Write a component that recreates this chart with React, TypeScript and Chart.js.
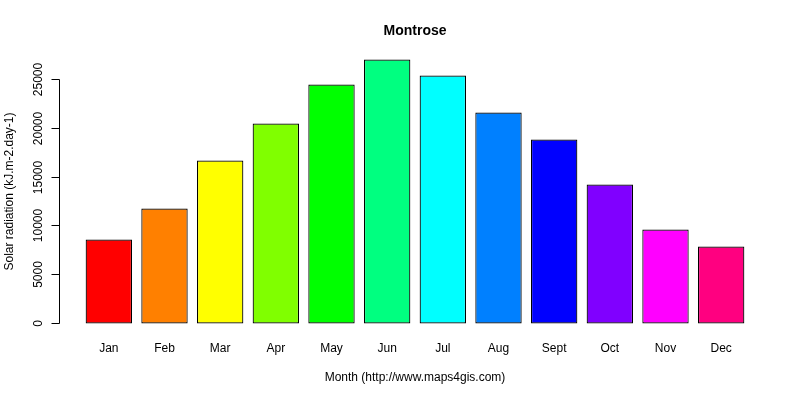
import React, { useEffect, useRef } from "react";
import { Chart, registerables } from "chart.js";

Chart.register(...registerables);

const months = ["Jan", "Feb", "Mar", "Apr", "May", "Jun", "Jul", "Aug", "Sept", "Oct", "Nov", "Dec"];
const radiation = [8570, 11740, 16630, 20410, 24390, 26940, 25310, 21530, 18780, 14180, 9590, 7860];
const barColors = [
  "#FF0000", "#FF8000", "#FFFF00", "#80FF00", "#00FF00", "#00FF80",
  "#00FFFF", "#0080FF", "#0000FF", "#8000FF", "#FF00FF", "#FF0080",
];
const yTicks = [0, 5000, 10000, 15000, 20000, 25000];
const chartTitle = "Montrose";
const xTitle = "Month (http://www.maps4gis.com)";
const yTitle = "Solar radiation (kJ.m-2.day-1)";

const FONT = "Liberation Sans, Arial, sans-serif";

const rAxesPlugin = {
  id: "rAxes",
  afterDraw(chart: any) {
    const ctx = chart.ctx;
    const y = chart.scales.y;
    const x = chart.scales.x;
    const area = chart.chartArea;
    // R plot region extends 0.468 category-units beyond the category padding
    const catW = (area.right - area.left) / months.length;
    const plotLeft = area.left - catW * (0.468 / 1.2);
    const plotRight = area.right + catW * (0.468 / 1.2);
    const plotTop = area.top;
    const plotBottom = area.bottom;
    const axisX = plotLeft;

    ctx.save();
    ctx.strokeStyle = "#000";
    ctx.lineWidth = 1;
    ctx.fillStyle = "#000";
    // y axis line
    const yTop = Math.round(y.getPixelForValue(yTicks[yTicks.length - 1])) + 0.5;
    const yBot = Math.round(y.getPixelForValue(yTicks[0])) + 0.5;
    const ax = Math.round(axisX) + 0.5;
    ctx.beginPath();
    ctx.moveTo(ax, yTop);
    ctx.lineTo(ax, yBot);
    ctx.stroke();
    ctx.font = `12px ${FONT}`;
    ctx.textAlign = "center";
    ctx.textBaseline = "middle";
    for (const t of yTicks) {
      const py = Math.round(y.getPixelForValue(t)) + 0.5;
      ctx.beginPath();
      ctx.moveTo(ax, py);
      ctx.lineTo(ax - 8, py);
      ctx.stroke();
      ctx.save();
      ctx.translate(ax - 21, py);
      ctx.rotate(-Math.PI / 2);
      ctx.fillText(String(t), 0, 0);
      ctx.restore();
    }
    // x labels
    months.forEach((m, i) => {
      ctx.fillText(m, x.getPixelForValue(i), 349);
    });
    // x title
    const cx = (plotLeft + plotRight) / 2;
    ctx.fillText(xTitle, cx, 378);
    // y title
    ctx.save();
    ctx.translate(9.5, (plotTop + plotBottom) / 2);
    ctx.rotate(-Math.PI / 2);
    ctx.fillText(yTitle, 0, 0);
    ctx.restore();
    // main title
    ctx.font = `bold 14px ${FONT}`;
    ctx.fillText(chartTitle, cx, 31);
    ctx.restore();
  },
};

export default function App() {
  const canvasRef = useRef<HTMLCanvasElement | null>(null);

  useEffect(() => {
    if (!canvasRef.current) return;
    const maxV = Math.max(...radiation);
    const chart = new Chart(canvasRef.current, {
      type: "bar",
      data: {
        labels: months,
        datasets: [
          {
            data: radiation,
            backgroundColor: barColors,
            borderColor: "#000",
            borderWidth: 1.2,
            borderSkipped: false,
            categoryPercentage: 1,
            barPercentage: 1 / 1.2,
          },
        ],
      },
      options: {
        animation: false,
        responsive: false,
        maintainAspectRatio: false,
        devicePixelRatio: 1,
        layout: { padding: { left: 81, right: 51, top: 49, bottom: 66 } },
        plugins: {
          legend: { display: false },
          tooltip: { enabled: false },
          title: { display: false },
        },
        scales: {
          x: { display: false, offset: true, grid: { display: false } },
          y: {
            display: false,
            min: -0.04 * maxV,
            max: 1.04 * maxV,
            grid: { display: false },
          },
        },
      },
      plugins: [rAxesPlugin],
    });
    return () => chart.destroy();
  }, []);

  return (
    <div style={{ position: "fixed", left: 0, top: 0, width: 800, height: 400, background: "#fff" }}>
      <canvas ref={canvasRef} width={800} height={400} style={{ width: 800, height: 400 }} />
    </div>
  );
}
